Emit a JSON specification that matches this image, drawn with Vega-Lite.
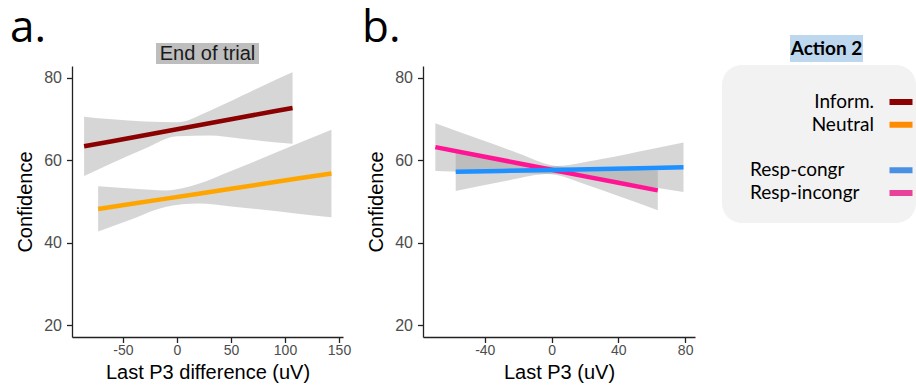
{
  "$schema": "https://vega.github.io/schema/vega-lite/v6.json",
  "padding": {"left": 10, "top": 6, "right": 0, "bottom": 0},
  "background": "white",
  "config": {
    "view": {"stroke": null},
    "axis": {"domainColor": "#222222", "domainWidth": 1.3, "tickColor": "#222222", "tickWidth": 1.3, "tickSize": 5.5, "labelColor": "#4d4d4d", "labelFont": "Liberation Sans", "labelFontSize": 14, "titleFont": "Liberation Sans", "titleFontSize": 20, "titleFontWeight": "normal", "titleColor": "black", "grid": false},
    "axisY": {"labelFontSize": 16}
  },
  "datasets": {
    "a": [
      {"cond": "Inform.", "x": -86, "fit": 63.4, "lo": 56.2, "hi": 70.6},
      {"cond": "Inform.", "x": -60, "fit": 64.65, "lo": 59.35, "hi": 69.95},
      {"cond": "Inform.", "x": -30, "fit": 66.1, "lo": 62.8, "hi": 69.4},
      {"cond": "Inform.", "x": 0, "fit": 67.55, "lo": 65.85, "hi": 69.25},
      {"cond": "Inform.", "x": 30, "fit": 69.0, "lo": 66.0, "hi": 72.0},
      {"cond": "Inform.", "x": 60, "fit": 70.45, "lo": 65.25, "hi": 75.65},
      {"cond": "Inform.", "x": 90, "fit": 71.9, "lo": 64.4, "hi": 79.4},
      {"cond": "Inform.", "x": 107, "fit": 72.7, "lo": 64.0, "hi": 81.4},
      {"cond": "Neutral", "x": -73, "fit": 48.2, "lo": 42.7, "hi": 53.7},
      {"cond": "Neutral", "x": -40, "fit": 49.5, "lo": 45.9, "hi": 53.1},
      {"cond": "Neutral", "x": -10, "fit": 50.7, "lo": 48.7, "hi": 52.7},
      {"cond": "Neutral", "x": 20, "fit": 51.9, "lo": 49.5, "hi": 54.3},
      {"cond": "Neutral", "x": 50, "fit": 53.1, "lo": 48.8, "hi": 57.4},
      {"cond": "Neutral", "x": 80, "fit": 54.3, "lo": 48.0, "hi": 60.6},
      {"cond": "Neutral", "x": 110, "fit": 55.5, "lo": 47.1, "hi": 63.9},
      {"cond": "Neutral", "x": 143, "fit": 56.8, "lo": 46.2, "hi": 67.4}
    ],
    "b": [
      {"cond": "Resp-incongr", "x": -69.6, "fit": 63.2, "lo": 57.4, "hi": 69.0},
      {"cond": "Resp-incongr", "x": -40, "fit": 60.87, "lo": 57.07, "hi": 64.67},
      {"cond": "Resp-incongr", "x": -20, "fit": 59.3, "lo": 56.9, "hi": 61.7},
      {"cond": "Resp-incongr", "x": 0, "fit": 57.7, "lo": 56.6, "hi": 58.8},
      {"cond": "Resp-incongr", "x": 20, "fit": 56.1, "lo": 54.2, "hi": 58.0},
      {"cond": "Resp-incongr", "x": 40, "fit": 54.55, "lo": 51.35, "hi": 57.75},
      {"cond": "Resp-incongr", "x": 63.6, "fit": 52.7, "lo": 47.9, "hi": 57.5},
      {"cond": "Resp-congr", "x": -57.4, "fit": 57.2, "lo": 52.55, "hi": 61.85},
      {"cond": "Resp-congr", "x": -30, "fit": 57.42, "lo": 54.82, "hi": 60.02},
      {"cond": "Resp-congr", "x": 0, "fit": 57.66, "lo": 56.76, "hi": 58.56},
      {"cond": "Resp-congr", "x": 30, "fit": 57.9, "lo": 55.5, "hi": 60.3},
      {"cond": "Resp-congr", "x": 60, "fit": 58.15, "lo": 53.55, "hi": 62.75},
      {"cond": "Resp-congr", "x": 79, "fit": 58.3, "lo": 52.3, "hi": 64.3}
    ],
    "leg": [
      {"label": "Inform.", "group": "cue"},
      {"label": "Neutral", "group": "cue"},
      {"label": "Resp-congr", "group": "resp"},
      {"label": "Resp-incongr", "group": "resp"}
    ]
  },
  "resolve": {"scale": {"color": "independent", "x": "independent", "y": "independent"}},
  "spacing": 11,
  "hconcat": [
    {
      "spacing": 2,
      "bounds": "flush",
      "center": true,
      "resolve": {"scale": {"color": "independent", "x": "independent", "y": "independent"}},
      "vconcat": [
        {
          "title": {"text": "a.", "anchor": "start", "frame": "group", "dx": -62, "offset": -50.5, "baseline": "alphabetic", "font": "Open Sans", "fontSize": 44, "fontWeight": "normal", "color": "black"},
          "data": {"values": []},
          "mark": "text",
          "width": 271, "height": 6
        },
        {
          "data": {"values": [{"t": "End of trial"}]},
          "mark": {"type": "text", "font": "Liberation Sans", "fontSize": 20, "color": "#1a1a1a", "baseline": "middle"},
          "encoding": {"text": {"field": "t"}},
          "width": 103, "height": 21,
          "view": {"fill": "#bebebe", "stroke": null}
        },
        {
          "data": {"name": "a"},
          "width": 271, "height": 271,
          "encoding": {
            "x": {"field": "x", "type": "quantitative", "scale": {"domain": [-97.2, 153.7], "nice": false, "zero": false}, "axis": {"values": [-50, 0, 50, 100, 150], "labelExpr": "'' + datum.value", "title": "Last P3 difference (uV)", "labelPadding": 1, "titlePadding": 5}}
          },
          "layer": [
            {
              "mark": {"type": "area", "color": "#999999", "opacity": 0.4, "interpolate": "monotone"},
              "encoding": {
                "y": {"field": "lo", "type": "quantitative", "scale": {"domain": [17.1, 82.9], "nice": false, "zero": false}, "axis": {"values": [20, 40, 60, 80], "title": "Confidence", "labelPadding": 5, "titlePadding": 8}},
                "y2": {"field": "hi"},
                "detail": {"field": "cond"}
              }
            },
            {
              "mark": {"type": "line", "strokeWidth": 4.5},
              "encoding": {
                "y": {"field": "fit", "type": "quantitative", "axis": {"values": [20, 40, 60, 80], "title": "Confidence", "labelPadding": 5, "titlePadding": 8}},
                "color": {"field": "cond", "type": "nominal", "scale": {"domain": ["Inform.", "Neutral"], "range": ["#8b0000", "#ffa500"]}, "legend": null}
              }
            }
          ]
        }
      ]
    },
    {
      "spacing": 27,
      "resolve": {"scale": {"color": "independent", "x": "independent", "y": "independent"}},
      "hconcat": [
        {
          "spacing": 2,
          "bounds": "flush",
          "resolve": {"scale": {"color": "independent", "x": "independent", "y": "independent"}},
          "vconcat": [
            {
              "title": {"text": "b.", "anchor": "start", "frame": "group", "dx": -61, "offset": -50.5, "baseline": "alphabetic", "font": "Open Sans", "fontSize": 44, "fontWeight": "normal", "color": "black"},
              "data": {"values": []},
              "mark": "text",
              "width": 272, "height": 29
            },
            {
              "data": {"name": "b"},
              "width": 272, "height": 271,
              "encoding": {
                "x": {"field": "x", "type": "quantitative", "scale": {"domain": [-77, 85.9], "nice": false, "zero": false}, "axis": {"values": [-40, 0, 40, 80], "labelExpr": "'' + datum.value", "title": "Last P3 (uV)", "labelPadding": 1, "titlePadding": 5}}
              },
              "layer": [
                {
                  "mark": {"type": "area", "color": "#999999", "opacity": 0.4, "interpolate": "monotone"},
                  "encoding": {
                    "y": {"field": "lo", "type": "quantitative", "scale": {"domain": [17.1, 82.9], "nice": false, "zero": false}, "axis": {"values": [20, 40, 60, 80], "title": "Confidence", "labelPadding": 5, "titlePadding": 8}},
                    "y2": {"field": "hi"},
                    "detail": {"field": "cond"}
                  }
                },
                {
                  "mark": {"type": "line", "strokeWidth": 4.5},
                  "encoding": {
                    "y": {"field": "fit", "type": "quantitative", "axis": {"values": [20, 40, 60, 80], "title": "Confidence", "labelPadding": 5, "titlePadding": 8}},
                    "color": {"field": "cond", "type": "nominal", "scale": {"domain": ["Resp-incongr", "Resp-congr"], "range": ["#ff1493", "#1e90ff"]}, "legend": null}
                  }
                }
              ]
            }
          ]
        },
        {
          "spacing": 3,
          "resolve": {"scale": {"color": "independent", "x": "independent", "y": "independent"}},
          "vconcat": [
            {
              "spacing": 0,
              "bounds": "flush",
              "hconcat": [
                {
                  "data": {"values": []},
                  "mark": "text",
                  "width": 68, "height": 27,
                  "view": {"fill": "transparent", "stroke": null}
                },
                {
                  "data": {"values": [{"t": "Action 2"}]},
                  "mark": {"type": "text", "font": "Lato", "fontWeight": "bold", "fontSize": 19, "color": "black", "baseline": "middle"},
                  "encoding": {"text": {"field": "t"}},
                  "width": 73, "height": 27,
                  "view": {"fill": "#bdd7ee", "stroke": null}
                }
              ]
            },
            {
              "data": {"name": "leg"},
              "width": 194, "height": 158,
              "view": {"fill": "#f2f2f2", "cornerRadius": 20, "stroke": null},
              "encoding": {
                "y": {"field": "label", "type": "ordinal", "scale": {"type": "point", "domain": ["Inform.", "Neutral", "gap", "Resp-congr", "Resp-incongr"], "padding": 0, "range": [37, 128]}, "axis": null}
              },
              "layer": [
                {
                  "transform": [{"filter": "datum.group === 'cue'"}],
                  "mark": {"type": "text", "align": "right", "baseline": "middle", "font": "Lato", "fontSize": 19, "color": "black"},
                  "encoding": {
                    "x": {"datum": 152, "type": "quantitative", "scale": {"domain": [0, 194], "nice": false, "zero": false}, "axis": null},
                    "text": {"field": "label"}
                  }
                },
                {
                  "transform": [{"filter": "datum.group === 'resp'"}],
                  "mark": {"type": "text", "align": "left", "baseline": "middle", "font": "Lato", "fontSize": 19, "color": "black"},
                  "encoding": {
                    "x": {"datum": 28, "type": "quantitative"},
                    "text": {"field": "label"}
                  }
                },
                {
                  "mark": {"type": "rule", "strokeWidth": 6},
                  "encoding": {
                    "x": {"datum": 167.5, "type": "quantitative"},
                    "x2": {"datum": 190.5},
                    "color": {"field": "label", "type": "nominal", "scale": {"domain": ["Inform.", "Neutral", "Resp-congr", "Resp-incongr"], "range": ["#8b0000", "#ff8c00", "#4a90e2", "#e8439a"]}, "legend": null}
                  }
                }
              ]
            }
          ]
        }
      ]
    }
  ]
}
